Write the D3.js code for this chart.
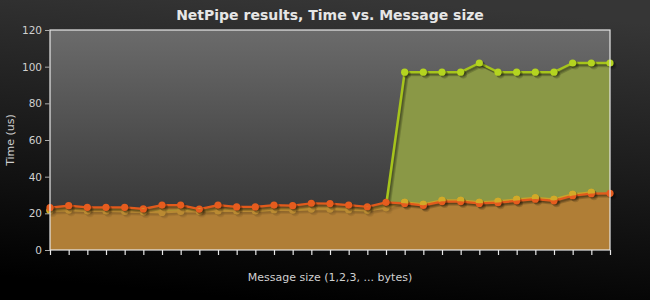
<!DOCTYPE html>
<html><head><meta charset="utf-8">
<script src="https://cdn.jsdelivr.net/npm/d3@7/dist/d3.min.js"></script>
<style>html,body{margin:0;padding:0;background:#000;}svg{display:block;}</style>
</head><body>
<script>
const sizes = [1,2,3,4,5,6,7,8,9,10,11,12,13,14,15,16,17,18,19,20,21,22,23,24,25,26,27,28,29,30,31];
const greenSeries = [21.5,22,21.5,21.5,21.5,21,21,21.5,21.5,21.5,21.5,21.5,22,22,22.5,22.5,22,21.5,24,97,97,97,97,102,97,97,97,97,102,102,102];
const goldSeries = [21.5,21.8,21.3,21.3,21,20.8,20.5,21,21,21.3,21.3,21.3,22,21.8,22.3,22.3,22,21.8,23,26,24.9,27.1,27.1,26,26.5,27.6,28.5,27.6,30.4,31.5];
const orangeSeries = [23.1,24.2,23.3,23.3,23.3,22.4,24.5,24.5,22.3,24.5,23.5,23.5,24.5,24.2,25.5,25.3,24.5,23.6,26.0,25.4,24.3,26.4,26.4,25.4,25.8,26.8,27.7,26.8,29.6,30.7,30.9];
const yTicks = [0,20,40,60,80,100,120];

const W=650,H=300, L=50,R=610,T=30,B=250;
const svg=d3.select("body").append("svg").attr("width",W).attr("height",H);
const defs=svg.append("defs");
const bg=defs.append("linearGradient").attr("id","bg").attr("x1","0.6").attr("y1","0").attr("x2","0.4").attr("y2","1");
bg.append("stop").attr("offset","0").attr("stop-color","#363636");
bg.append("stop").attr("offset","1").attr("stop-color","#000");
const pg=defs.append("linearGradient").attr("id","pg").attr("x1","0").attr("y1","0").attr("x2","0").attr("y2","1");
pg.append("stop").attr("offset","0").attr("stop-color","#6b6b6b");
pg.append("stop").attr("offset","1").attr("stop-color","#2e2e2e");

svg.append("rect").attr("width",W).attr("height",H).attr("fill","url(#bg)");

const x=d3.scalePoint().domain(sizes).range([L,R]).padding(0);
const y=d3.scaleLinear().domain([0,120]).range([B,T]);

svg.append("rect").attr("x",L).attr("y",T).attr("width",R-L).attr("height",B-T).attr("fill","url(#pg)");

const green={data:greenSeries, line:"#a6c41c", pt:"#b4d420", fill:"#8a9846", w:2.5};
const orange={data:orangeSeries, line:"#e25a1c", pt:"#e65c1e", fill:"#b07e36", w:2.2};
const gold={data:goldSeries, line:"#c9a22a", pt:"#d2aa28", fill:"#b07e36", w:2.2};

const area=d3.area().x((d,i)=>x(sizes[i])).y0(y(0)).y1(d=>y(d));
const line=d3.line().x((d,i)=>x(sizes[i])).y(d=>y(d));
const above=d3.area().x((d,i)=>x(sizes[i])).y0(0).y1(d=>y(d)-0.3);
defs.append("clipPath").attr("id","aboveOrange").append("path").attr("d",above(orangeSeries));

const gPlot=svg.append("g");
function drawFill(s,op){ gPlot.append("path").attr("d",area(s.data)).attr("fill",s.fill).attr("fill-opacity",op); }
function drawLine(s){
  for(let k=3;k>=1;k--){
    gPlot.append("path").attr("d",line(s.data)).attr("fill","none")
      .attr("stroke","#000").attr("stroke-opacity",0.17).attr("stroke-width",s.w+0.5)
      .attr("stroke-linejoin","round")
      .attr("transform",`translate(${0.9*k},${0.9*k})`);
  }
  gPlot.append("path").attr("d",line(s.data)).attr("fill","none")
    .attr("stroke",s.line).attr("stroke-width",s.w).attr("stroke-linejoin","round");
}
function drawPoints(s,clip,shadow=true){
  const g=gPlot.append("g");
  if(clip) g.attr("clip-path",`url(#${clip})`);
  s.data.forEach((d,i)=>{
    if(shadow) for(let k=3;k>=1;k--){
      g.append("circle").attr("cx",x(sizes[i])+0.9*k).attr("cy",y(d)+0.9*k).attr("r",3.8)
        .attr("fill","#000").attr("fill-opacity",0.14);
    }
    g.append("circle").attr("cx",x(sizes[i])).attr("cy",y(d)).attr("r",3.6).attr("fill",s.pt);
  });
}
drawFill(green,1);
drawFill(orange,1);
drawFill(gold,1);
drawLine(green); drawPoints(green);
drawLine(gold); drawPoints(gold);
drawFill(orange,0.72);
drawLine(orange); drawPoints(orange);
drawPoints(gold,"aboveOrange",false);

// border
svg.append("rect").attr("x",L).attr("y",T).attr("width",R-L).attr("height",B-T)
  .attr("fill","none").attr("stroke","#e8e8e8").attr("stroke-width",1.2);

// y axis
const ya=svg.append("g").attr("transform",`translate(${L},0)`)
  .call(d3.axisLeft(y).tickValues(yTicks).tickSize(5).tickPadding(3));
ya.select(".domain").remove();
ya.selectAll("line").attr("stroke","#aaa");
ya.selectAll("text").attr("fill","#d0d0d0").style("font-family","DejaVu Sans").style("font-size","10.5px");

// x axis
const xa=svg.append("g").attr("transform",`translate(0,${B})`)
  .call(d3.axisBottom(x).tickSize(5).tickFormat(""));
xa.select(".domain").remove();
xa.selectAll("line").attr("stroke","#e8e8e8").attr("stroke-width",1.2);

svg.append("text").attr("x",(L+R)/2).attr("y",20).attr("text-anchor","middle")
  .attr("fill","#e6e6e6").style("font-family","DejaVu Sans").style("font-weight","bold").style("font-size","14px")
  .text("NetPipe results, Time vs. Message size");
svg.append("text").attr("x",(L+R)/2).attr("y",281).attr("text-anchor","middle")
  .attr("fill","#d0d0d0").style("font-family","DejaVu Sans").style("font-size","11px")
  .text("Message size (1,2,3, ... bytes)");
svg.append("text").attr("transform","translate(14,140) rotate(-90)").attr("text-anchor","middle")
  .attr("fill","#d0d0d0").style("font-family","DejaVu Sans").style("font-size","11px")
  .text("Time (us)");
</script>
</body></html>
